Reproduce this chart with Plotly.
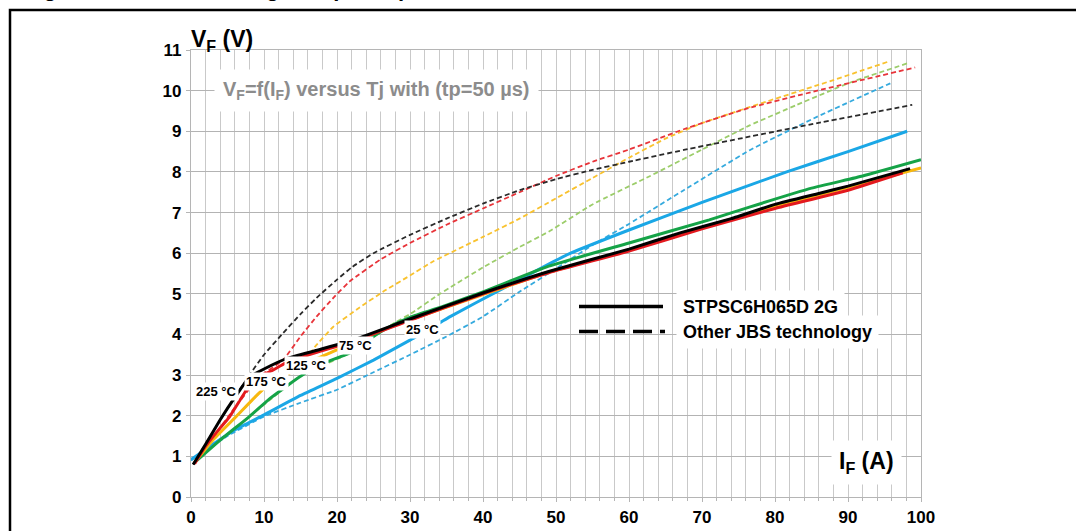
import plotly.graph_objects as go

# ---------------- data ----------------
# STPSC6H065D 2G (solid)
x_s225 = [0.3, 2, 4, 6, 8, 10, 13, 17, 22, 30, 40, 49, 60, 67, 74, 80, 86, 90, 98.5]
y_s225 = [0.8, 1.3, 1.9, 2.45, 2.95, 3.15, 3.4, 3.6, 3.85, 4.38, 5.02, 5.55, 6.1, 6.5, 6.85, 7.2, 7.47, 7.65, 8.08]
x_s175 = [0.5, 2, 4, 5.3, 7.6, 9.4, 11, 13, 17, 22, 30, 40, 49, 60, 70, 80, 90, 97.5]
y_s175 = [0.82, 1.25, 1.7, 1.98, 2.63, 2.96, 3.1, 3.3, 3.55, 3.82, 4.35, 5.0, 5.52, 6.05, 6.6, 7.1, 7.55, 7.98]
x_s125 = [0.5, 3, 6.2, 9, 10.8, 13.5, 16, 20, 25, 30, 40, 49, 60, 70, 80, 90, 100]
y_s125 = [0.85, 1.4, 1.98, 2.5, 2.8, 3.05, 3.3, 3.62, 4.02, 4.36, 4.98, 5.53, 6.08, 6.63, 7.15, 7.62, 8.1]
x_s75 = [0.5, 4, 8, 11, 14.9, 18, 21.7, 25, 27.2, 30, 35, 40, 49, 60, 71, 76.6, 85, 92, 100]
y_s75 = [0.85, 1.4, 1.98, 2.45, 2.96, 3.28, 3.54, 3.95, 4.19, 4.42, 4.72, 5.05, 5.68, 6.25, 6.82, 7.14, 7.6, 7.9, 8.3]
x_s25 = [0, 3, 6, 10, 15, 20, 25, 30, 35.5, 42.3, 49.2, 52, 60, 70, 81.6, 90, 98.1]
y_s25 = [0.92, 1.3, 1.65, 2.02, 2.5, 2.92, 3.37, 3.86, 4.44, 5.09, 5.75, 6.0, 6.57, 7.25, 8.0, 8.5, 9.0]

# Other JBS technology (dashed)
x_d225 = [0.3, 2, 4, 6, 8, 10, 12.6, 15, 17.2, 20, 22, 25, 30, 35, 40, 45, 50, 55, 60, 67.5, 76, 85.8, 98.8]
y_d225 = [0.8, 1.3, 1.9, 2.45, 3.0, 3.5, 4.03, 4.5, 4.9, 5.35, 5.65, 6.0, 6.45, 6.85, 7.22, 7.55, 7.82, 8.05, 8.25, 8.54, 8.85, 9.2, 9.65]
x_d175 = [0.5, 3, 6, 9.4, 12.6, 15, 17.2, 19.5, 21.7, 26, 30, 35, 40, 45, 50, 55, 60, 67.5, 76, 85.8, 99.2]
y_d175 = [0.82, 1.45, 2.2, 2.96, 3.37, 3.95, 4.44, 4.9, 5.3, 5.85, 6.25, 6.7, 7.1, 7.5, 7.9, 8.25, 8.55, 9.05, 9.55, 10.0, 10.57]
x_d125 = [0.5, 3, 6.2, 10.8, 13.5, 14.9, 17, 19.5, 23, 26.3, 30, 33.2, 40, 45, 50, 55, 60, 65, 70, 76.6, 88, 95.8]
y_d125 = [0.85, 1.4, 1.98, 2.8, 3.05, 3.2, 3.7, 4.19, 4.65, 5.05, 5.45, 5.8, 6.4, 6.85, 7.35, 7.85, 8.35, 8.82, 9.2, 9.6, 10.26, 10.73]
x_d75 = [0.5, 4, 8, 14.9, 21.7, 25, 28, 30, 34.1, 40, 45, 49.2, 55, 62.9, 70, 76.6, 83, 90.3, 98.1]
y_d75 = [0.85, 1.4, 1.98, 2.96, 3.54, 3.95, 4.3, 4.5, 5.0, 5.65, 6.15, 6.55, 7.2, 7.9, 8.55, 9.15, 9.65, 10.2, 10.67]
x_d25 = [0, 5, 10, 15, 20, 25, 30, 35, 40, 45, 50, 55, 60, 67.5, 76.6, 85.8, 95.8]
y_d25 = [0.9, 1.5, 1.98, 2.32, 2.64, 3.07, 3.5, 3.95, 4.44, 5.05, 5.62, 6.2, 6.72, 7.55, 8.54, 9.36, 10.18]

temp_labels = ["225 °C", "175 °C", "125 °C", "75 °C", "25 °C"]
label_x = [3.45, 10.3, 15.8, 22.5, 31.7]
label_y = [2.59, 2.84, 3.23, 3.72, 4.11]

legend_names = ["STPSC6H065D 2G", "Other JBS technology"]
x_ticks = [0, 10, 20, 30, 40, 50, 60, 70, 80, 90, 100]
y_ticks = list(range(0, 12))

# ---------------- styling ----------------
FONT = "Liberation Sans, Arial, sans-serif"
W, H = 1076, 531
L, R, T, B = 191, 921, 50, 497  # plot area in pixels


def px(xp):
    return (xp - L) / (R - L)


def py(yp):
    return (B - yp) / (B - T)


fig = go.Figure()

dashed = [
    (x_d25, y_d25, "#35aade"),
    (x_d75, y_d75, "#9ccd6a"),
    (x_d125, y_d125, "#f9c22e"),
    (x_d175, y_d175, "#e8343a"),
    (x_d225, y_d225, "#2a2a2a"),
]
for xs, ys, c in dashed:
    fig.add_trace(go.Scatter(x=xs, y=ys, mode="lines", showlegend=False,
                             line=dict(color=c, width=1.8, dash="5px,3px", shape="spline", smoothing=0.4),
                             hoverinfo="skip"))

solid = [
    (x_s25, y_s25, "#1aa7e6"),
    (x_s75, y_s75, "#15a347"),
    (x_s125, y_s125, "#f8b80e"),
    (x_s175, y_s175, "#e3191e"),
    (x_s225, y_s225, "#000000"),
]
for xs, ys, c in solid:
    fig.add_trace(go.Scatter(x=xs, y=ys, mode="lines", showlegend=False,
                             line=dict(color=c, width=3, shape="spline", smoothing=0.4),
                             hoverinfo="skip"))

annotations = []
for t, lx, ly in zip(temp_labels, label_x, label_y):
    annotations.append(dict(x=lx, y=ly, xref="x", yref="y", text=t, showarrow=False,
                            font=dict(family=FONT, size=13, color="black", weight="bold"),
                            bgcolor="white", borderpad=1, xanchor="center", yanchor="middle"))

# inner title
annotations.append(dict(x=px(376), y=py(90), xref="paper", yref="paper",
                        text="V<sub>F</sub>=f(I<sub>F</sub>) versus Tj with (tp=50 µs)",
                        showarrow=False, font=dict(family=FONT, size=20, color="#8c8c8c", weight="bold"),
                        bgcolor="white", borderpad=8, xanchor="center", yanchor="middle"))
# axis titles
annotations.append(dict(x=px(189), y=py(41), xref="paper", yref="paper",
                        text="V<sub>F</sub> (V)", showarrow=False,
                        font=dict(family=FONT, size=23, color="black", weight="bold"),
                        xanchor="left", yanchor="middle"))
annotations.append(dict(x=px(866), y=py(462), xref="paper", yref="paper",
                        text="I<sub>F</sub> (A)", showarrow=False,
                        font=dict(family=FONT, size=23, color="black", weight="bold"),
                        bgcolor="white", borderpad=7, xanchor="center", yanchor="middle"))
# legend texts
for name, yy in zip(legend_names, [306.5, 331.5]):
    annotations.append(dict(x=px(676), y=py(yy), xref="paper", yref="paper", text=name,
                            showarrow=False, font=dict(family=FONT, size=18, color="black", weight="bold"),
                            bgcolor="white", borderpad=6, xanchor="left", yanchor="middle"))
# page title (cut off at the top edge, as in the reference)
annotations.append(dict(x=px(22), y=py(3), xref="paper", yref="paper",
                        text="Figure 6. Forward voltage drop comparison between STPSC6H065D 2G and other JBS structure",
                        showarrow=False, font=dict(family=FONT, size=22, color="black", weight="bold"),
                        xanchor="left", yanchor="bottom"))

shapes = [
    # outer frame
    dict(type="rect", xref="paper", yref="paper", x0=px(10), x1=px(1100), y0=py(560), y1=py(10),
         line=dict(color="black", width=2.5), fillcolor="rgba(0,0,0,0)", layer="above"),
    # legend sample lines
    dict(type="line", xref="paper", yref="paper", x0=px(579), x1=px(663), y0=py(306.5), y1=py(306.5),
         line=dict(color="black", width=3.5)),
    dict(type="line", xref="paper", yref="paper", x0=px(579), x1=px(665), y0=py(331.5), y1=py(331.5),
         line=dict(color="black", width=3.5, dash="19px,8px")),
]

fig.update_layout(
    width=W, height=H,
    margin=dict(l=L, r=W - R, t=T, b=H - B, pad=0, autoexpand=False),
    paper_bgcolor="white", plot_bgcolor="white",
    showlegend=False,
    annotations=annotations,
    shapes=shapes,
    xaxis=dict(range=[0, 100], tickvals=x_ticks, ticktext=[str(v) for v in x_ticks],
               automargin=False,
               showgrid=True, gridcolor="#c9c9c9", gridwidth=1.3,
               showline=True, mirror=True, linecolor="#b5b5b5", linewidth=1.3,
               zeroline=False, ticks="outside", ticklen=4, tickcolor="#b5b5b5", tickwidth=1.3,
               minor=dict(dtick=2, showgrid=True, gridcolor="#c9c9c9", gridwidth=1.3,
                          ticks="outside", ticklen=3, tickcolor="#b5b5b5"),
               tickfont=dict(family=FONT, size=17, color="black", weight="bold"),
               ticklabelstandoff=0, fixedrange=True),
    yaxis=dict(range=[0, 11], tickvals=y_ticks, ticktext=[str(v) for v in y_ticks],
               automargin=False,
               showgrid=True, gridcolor="#b3b3b3", gridwidth=1.3,
               showline=True, mirror=True, linecolor="#b5b5b5", linewidth=1.3,
               zeroline=False, ticks="outside", ticklen=4, tickcolor="#b5b5b5", tickwidth=1.3,
               tickfont=dict(family=FONT, size=17, color="black", weight="bold"),
               ticklabelstandoff=1, fixedrange=True),
)

fig.write_html("out.html", config={"displayModeBar": False})
